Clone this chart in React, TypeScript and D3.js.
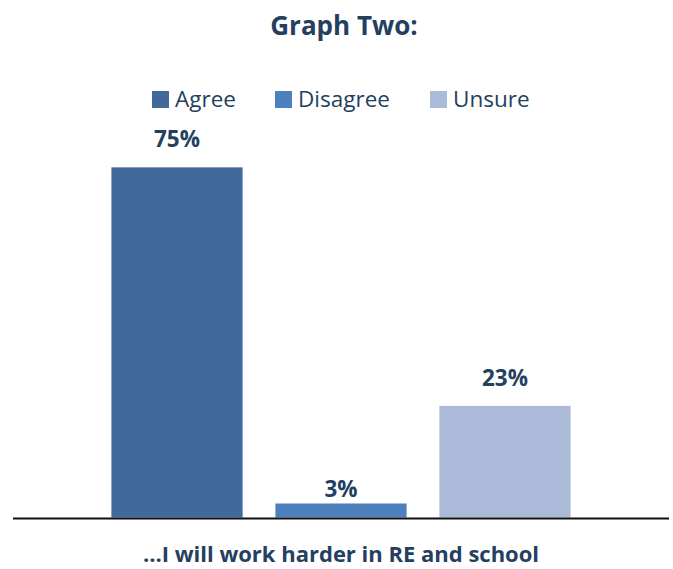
import React from "react";
import * as d3 from "d3";

const categories = ["Agree", "Disagree", "Unsure"];
const values = [75, 3, 23.9];
const valueLabels = ["75%", "3%", "23%"];
const colors = ["#41699b", "#4e80bd", "#aabad8"];
const title = "Graph Two:";
const xAxisTitle = "\u2026I will work harder in RE and school";

const W = 673;
const H = 569;
const TEXT = "#243f60";
const FONT = "'Open Sans', sans-serif";

export default function App() {
  const x = d3.scaleBand<string>().domain(categories).range([13, 669]).paddingInner(0.2).paddingOuter(0.6);
  const y = d3.scaleLinear().domain([0, 80]).range([517.5, 144]);

  const legendX = [152, 275, 430];

  return (
    <svg width={W} height={H} style={{ position: "absolute", left: 0, top: 0, background: "#fff" }} fontFamily={FONT}>
      <text x={344} y={35} textAnchor="middle" fontSize={26} fontWeight="bold" fill={TEXT}>{title}</text>
      {categories.map((c, i) => (
        <g key={"lg" + c}>
          <rect x={legendX[i]} y={91} width={17} height={17} fill={colors[i]} />
          <text x={legendX[i] + 23} y={107} fontSize={22.5} fill={TEXT}>{c}</text>
        </g>
      ))}
      {categories.map((c, i) => {
        const x0 = x(c)!;
        const top = y(values[i]);
        const h = y(0) - top;
        const off = h < 30 ? 6 : 20;
        return (
          <g key={c}>
            <rect x={x0} y={top} width={x.bandwidth()} height={h} fill={colors[i]} />
            <text x={x0 + x.bandwidth() / 2} y={top - off} textAnchor="middle" fontSize={22.5} fontWeight="bold" fill={TEXT}>{valueLabels[i]}</text>
          </g>
        );
      })}
      <line x1={13} x2={669} y1={518.5} y2={518.5} stroke="#111" strokeWidth={2} />
      <text x={341} y={562} textAnchor="middle" fontSize={22} fontWeight="bold" fill={TEXT}>{xAxisTitle}</text>
    </svg>
  );
}
